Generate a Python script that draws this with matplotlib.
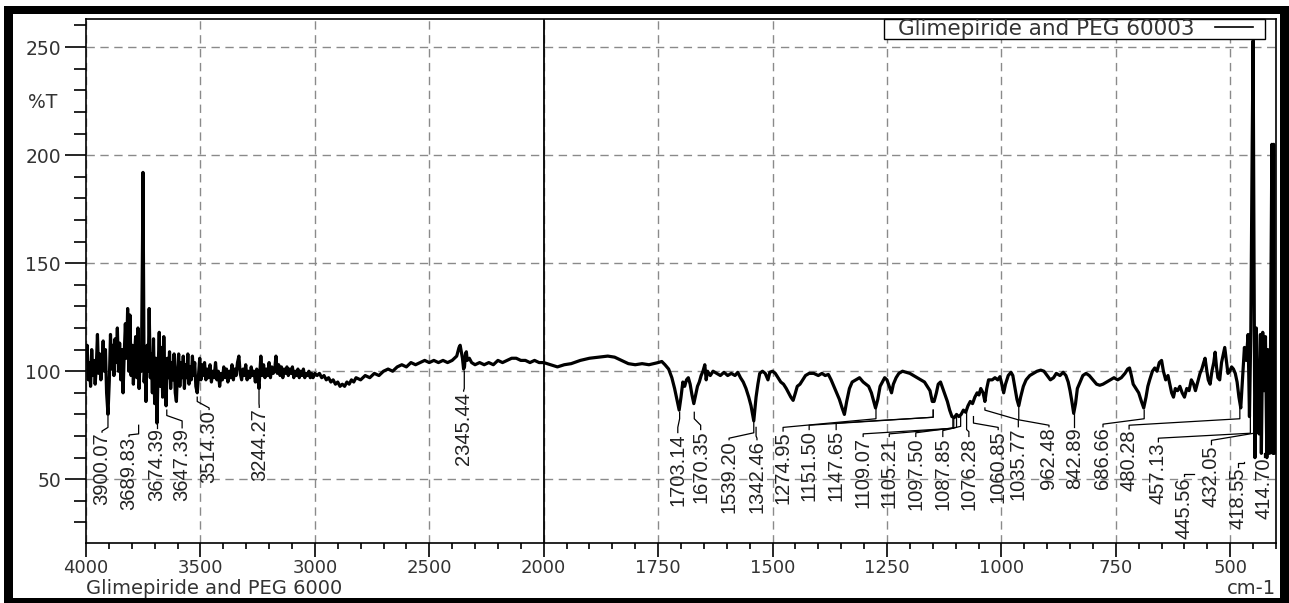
import numpy as np
import matplotlib
matplotlib.use('Agg')
import matplotlib.pyplot as plt
from matplotlib.lines import Line2D
from matplotlib.patches import Rectangle
from matplotlib.ticker import FixedLocator, NullFormatter, FuncFormatter

# ---------------- data ----------------
wavenumber = [
    4000, 3995, 3990, 3985, 3980, 3975, 3970, 3965, 3960, 3955, 3950, 3945, 3940, 3935, 3930,
    3925, 3920, 3915, 3910, 3904, 3898, 3893, 3888, 3883, 3878, 3873, 3868, 3863, 3858, 3853,
    3848, 3843, 3838, 3833, 3828, 3823, 3818, 3813, 3808, 3803, 3798, 3793, 3788, 3783, 3778,
    3773, 3768, 3763, 3758, 3753, 3751, 3749, 3746, 3742, 3738, 3733, 3728, 3724, 3719, 3715,
    3710, 3705, 3700, 3695, 3690, 3685, 3680, 3675, 3670, 3665, 3660, 3655, 3650, 3645, 3640,
    3635, 3630, 3625, 3620, 3615, 3610, 3605, 3600, 3595, 3590, 3585, 3580, 3575, 3570, 3565,
    3560, 3555, 3550, 3545, 3540, 3535, 3530, 3525, 3520, 3514, 3508, 3503, 3498, 3493,
    3488, 3482, 3476, 3470, 3464, 3458, 3452, 3446, 3440, 3434, 3428, 3422, 3416, 3410, 3404,
    3398, 3392, 3386, 3380, 3374, 3368, 3362, 3356, 3350, 3344, 3338, 3332, 3326, 3320, 3314,
    3308, 3302, 3296, 3290, 3284, 3278, 3272, 3266, 3260, 3254, 3248, 3244, 3240, 3236, 3230,
    3224, 3218, 3212, 3206, 3200, 3194, 3188, 3182, 3176, 3170, 3164, 3158, 3152, 3146, 3140,
    3134, 3128, 3122, 3116, 3110, 3104, 3098, 3092, 3086, 3080, 3074, 3068, 3062, 3056, 3050,
    3044, 3038, 3032, 3026, 3020, 3014, 3008, 3000, 2990, 2980, 2970, 2960, 2950, 2940, 2930,
    2920, 2910, 2900, 2890, 2880, 2870, 2860, 2850, 2840, 2830, 2820, 2800, 2780, 2760, 2740,
    2720, 2700, 2680, 2660, 2640, 2620, 2600, 2580, 2560, 2540, 2520, 2500, 2480, 2460, 2440,
    2420, 2400, 2390, 2380, 2370, 2365, 2360, 2355, 2350, 2346, 2342, 2338, 2334, 2325, 2315,
    2300, 2280, 2260, 2240, 2220, 2200, 2180, 2160, 2140, 2120, 2100, 2080, 2060, 2040, 2020,
    2000, 1985, 1970, 1955, 1940, 1920, 1900, 1880, 1860, 1845, 1830, 1815, 1800, 1785, 1770,
    1760, 1750, 1742, 1735, 1727, 1720, 1714, 1708, 1704, 1700, 1696, 1692, 1688, 1684, 1680,
    1676, 1672, 1668, 1664, 1660, 1656, 1652, 1648, 1645, 1642, 1636, 1630, 1622, 1614, 1606,
    1598, 1590, 1582, 1576, 1570, 1564, 1558, 1552, 1547, 1541, 1536, 1532, 1528, 1522, 1516,
    1510, 1506, 1500, 1494, 1488, 1482, 1476, 1470, 1465, 1460, 1455, 1450, 1446, 1440, 1434,
    1428, 1420, 1410, 1400, 1392, 1385, 1378, 1372, 1366, 1360, 1354, 1348, 1343, 1338, 1332,
    1326, 1318, 1310, 1302, 1296, 1290, 1284, 1279, 1275, 1270, 1265, 1260, 1255, 1250, 1245,
    1240, 1236, 1230, 1224, 1216, 1208, 1200, 1192, 1184, 1176, 1168, 1162, 1156, 1151, 1147,
    1142, 1138, 1133, 1128, 1123, 1118, 1113, 1108, 1103, 1098, 1093, 1088, 1083, 1078, 1073,
    1068, 1063, 1058, 1053, 1049, 1045, 1040, 1036, 1032, 1028, 1020, 1014, 1008, 1003, 999,
    995, 991, 985, 979, 975, 970, 966, 962, 958, 952, 946, 938, 930, 922, 914,
    907, 900, 893, 886, 880, 872, 865, 859, 854, 850, 846, 842, 838, 834, 828,
    822, 815, 808, 800, 792, 785, 778, 770, 762, 754, 746, 738, 730, 724, 720,
    716, 712, 706, 700, 694, 689, 684, 680, 676, 670, 665, 660, 655, 650, 646,
    641, 636, 632, 628, 624, 620, 615, 610, 605, 600, 595, 590, 585, 580, 576,
    571, 566, 562, 558, 555, 551, 548, 544, 540, 536, 533, 530, 527, 523, 519,
    515, 512, 508, 505, 501, 497, 493, 489, 485, 481, 477, 473, 469, 465, 461,
    458, 455, 452, 450, 448, 446, 443, 440, 437, 434, 432, 429, 426, 423, 420,
    418, 416, 414, 412, 409, 407, 405, 403, 401,
]
transmittance = [
    108, 112, 96, 104, 93, 110, 98, 105, 94, 102, 117, 99, 108, 96, 104,
    114, 100, 110, 90, 80, 96, 117, 101, 112, 98, 115, 104, 120, 100, 113,
    96, 110, 90, 108, 122, 106, 129, 100, 126, 98, 112, 94, 108, 116, 97,
    120, 92, 110, 100, 160, 192, 150, 95, 104, 86, 112, 100, 129, 97, 108,
    90, 115, 85, 106, 76, 100, 118, 93, 111, 88, 116, 95, 84, 106, 97,
    109, 92, 104, 96, 108, 90, 86, 101, 108, 93, 104, 97, 107, 92, 103,
    97, 108, 94, 102, 96, 107, 98, 104, 93, 90, 99, 106, 96, 103,
    98, 104, 96, 101, 97, 103, 95, 100, 97, 104, 96, 100, 93, 99, 96,
    102, 97, 101, 95, 100, 97, 103, 96, 101, 98, 104, 107, 99, 96, 101,
    98, 103, 96, 100, 97, 102, 98, 100, 95, 101, 96, 92, 100, 107, 98,
    103, 97, 101, 98, 104, 97, 102, 99, 100, 107, 99, 103, 98, 102, 97,
    101, 99, 102, 98, 101, 99, 102, 97, 100, 98, 101, 97, 100, 98, 101,
    97, 99, 98, 100, 97, 99, 97, 99, 98, 99, 97, 98, 96, 97, 95,
    96, 94, 95, 93, 94, 93, 95, 94, 96, 95, 97, 96, 98, 97, 99,
    98, 100, 101, 100, 102, 103, 102, 104, 103, 104, 105, 104, 105, 104, 105,
    104, 105, 106, 107, 111, 112, 109, 106, 101, 102, 108, 109, 105, 106, 104,
    103, 104, 103, 104, 103, 105, 104, 105, 106, 106, 105, 105, 104, 105, 104,
    104, 103, 102, 103, 103.5, 105, 106, 106.5, 107, 106.5, 105, 103.5, 103, 103.5, 103,
    103.5, 104, 104.5, 103, 101, 97, 92, 86, 82, 88, 95, 93, 96, 97, 94,
    89, 85, 89, 93, 95, 98, 100, 103, 96, 100, 98, 100, 99, 98, 99.5,
    98, 99, 98, 99.5, 97, 95, 92, 88, 84, 77, 88, 94, 99, 100, 99,
    96, 99.5, 100, 99, 97, 95, 94, 92, 90, 88, 86.5, 90, 93, 94, 96,
    98, 99, 99, 98, 99, 98, 98.5, 96, 93, 90, 87, 83, 80, 86, 92,
    95, 96, 97, 95, 94, 93, 90, 86, 83, 87, 93, 95, 97, 96, 93,
    90, 94, 97, 99, 100, 99.5, 99, 98, 97, 96, 95, 93, 91, 86, 86,
    90, 94, 95, 92, 89, 86, 82, 79, 78.5, 80, 79, 80, 82, 81, 84,
    86, 85, 88, 90, 89, 92, 90, 86, 92, 96, 96, 97, 96, 97.5, 94,
    90, 94, 98, 99.5, 98, 92, 87, 84, 88, 93, 96, 98, 99, 100, 100.5,
    100, 98, 96, 97, 99, 98, 99.5, 98, 95, 91, 86, 80.5, 85, 92, 95,
    98, 99, 98, 96, 94, 93.5, 94, 95, 96, 97, 96, 97, 99, 101, 101.5,
    98, 94, 92, 90, 86, 83, 88, 93, 96, 100, 101.5, 100, 104, 105, 100,
    96, 98, 94, 90, 88, 92, 91, 93, 90, 88, 92, 91, 96, 94, 91,
    95, 99, 101, 104, 106, 100, 96, 94, 100, 104, 108.8, 102, 97, 96, 104,
    108, 111, 104, 99, 100, 102, 101, 99, 95, 88, 83, 97, 111, 105, 117,
    79, 119, 205, 253, 150, 60, 120, 85, 71, 117, 62, 118, 91, 116, 60,
    110, 94, 62, 110, 205, 62, 205, 62, 100,
]

# peak annotations
peak_labels = ["3900.07", "3689.83", "3674.39", "3647.39", "3514.30", "3244.27", "2345.44",
               "1703.14", "1670.35", "1539.20", "1342.46", "1274.95", "1151.50", "1147.65",
               "1109.07", "1105.21", "1097.50", "1087.85", "1076.28", "1060.85", "1035.77",
               "962.48", "842.89", "686.66", "480.28", "457.13", "445.56", "432.05",
               "418.55", "414.70"]
label_x = [3930, 3812, 3690, 3580, 3462, 3243, 2350,
           1707, 1657, 1595, 1534, 1477, 1420, 1361,
           1302, 1245, 1187, 1128, 1071, 1007, 963,
           896, 841, 778, 721, 657, 600, 541,
           482, 426]
label_top = [71.5, 69.5, 73.5, 73.5, 82, 83, 90.5,
             71.3, 72.7, 68, 68, 72, 72.7, 72.7,
             69.5, 69.5, 69.5, 69.5, 69.5, 72.7, 74,
             74, 74, 74, 73, 67, 51, 65.7,
             55.5, 60]
leader_x = [3904, 3770, 3690, 3647, 3514, 3244, 2347,
            1703, 1671, 1541, 1536, 1274, 1149, 1149,
            1106, 1104, 1098, 1089, 1076, 1061, 1036,
            962, 841, 688, 479, 456, 580, 434,
            470, 426]
leader_start = [79, 75, 76, 82, 88, 91, 100,
                81, 81, 76.5, 74, 82.5, 82, 82,
                78, 78.5, 79.5, 80, 81, 79, 83,
                84, 80, 82, 83, 79, 52.5, 75,
                58, 62]
leader_knee = [74, 71, 74.5, 79.5, 86, 85, 92,
               78, 78, 71.5, 70, 78, 78.7, 78.7,
               73.6, 73.6, 74, 74.5, 73, 76, 82,
               77.5, 75, 78, 78, 71.3, 52.5, 71.8,
               57.5, 61]
label_knee = [72.3, 70.5, 74, 77, 83, 84, 91,
              74, 75, 69, 69, 74, 75, 76,
              71, 71, 71.5, 72.5, 72, 74, 77.5,
              75, 75, 75.5, 75, 69, 52.5, 68,
              57.5, 61]

major_x = [4000, 3500, 3000, 2500, 2000, 1750, 1500, 1250, 1000, 750, 500]
major_y = [50, 100, 150, 200, 250]

# ---------------- scale: 2x expansion below 2000 cm-1 ----------------
def fwd(x):
    x = np.asarray(x, dtype=float)
    return np.where(x >= 2000, x, 2 * x - 2000)


def inv(y):
    y = np.asarray(y, dtype=float)
    return np.where(y >= 2000, y, (y + 2000) / 2)


W, H = 1289, 603
AX_L, AX_T, AX_R, AX_B = 86, 19, 1276, 543
AW, AH = AX_R - AX_L, AX_B - AX_T
fig = plt.figure(figsize=(W / 100, H / 100), dpi=100)
ax = fig.add_axes([AX_L / W, 1 - AX_B / H, AW / W, AH / H])
ax.set_xscale('function', functions=(fwd, inv))

ax.plot(wavenumber, transmittance, color='black', lw=2.3, zorder=3)
ax.set_xlim(4000, 400)
ax.set_ylim(20.5, 263)

minor_x = [v for v in list(range(3900, 2000, -100)) + list(range(1950, 399, -50)) if v not in major_x]
ax.xaxis.set_major_locator(FixedLocator(major_x))
ax.xaxis.set_minor_locator(FixedLocator(minor_x))
ax.xaxis.set_major_formatter(FuncFormatter(lambda v, p: f"{v:.0f}"))
ax.xaxis.set_minor_formatter(NullFormatter())
ax.yaxis.set_major_locator(FixedLocator(major_y))
ax.yaxis.set_minor_locator(FixedLocator(list(range(30, 261, 10))))
ax.yaxis.set_major_formatter(FuncFormatter(lambda v, p: f"{v:.0f}"))

ax.tick_params(axis='y', which='major', direction='out', length=15, width=1.2, pad=3,
               labelsize=13.5, labelcolor='#333333')
ax.tick_params(axis='y', which='minor', direction='out', length=9, width=1.2)
ax.tick_params(axis='x', which='major', direction='out', length=10, width=1.2, pad=1.5,
               labelsize=13, labelcolor='#333333')
ax.tick_params(axis='x', which='minor', direction='out', length=4.5, width=1.2)

ax.grid(True, which='major', color='#8a8a8a', lw=1.0, ls=(0, (6, 4)), zorder=1)
ax.axvline(2000, color='black', lw=1.3, zorder=2)
for s in ax.spines.values():
    s.set_linewidth(1.2)
    s.set_color('black')

# peak labels with leader lines
for i, lab in enumerate(peak_labels):
    ax.plot([leader_x[i], leader_x[i], label_x[i], label_x[i]],
            [leader_start[i], leader_knee[i], label_knee[i], label_top[i] + 0.3],
            color='black', lw=0.9, zorder=4)
    ax.text(label_x[i], label_top[i], lab, rotation=90, ha='center', va='top',
            fontsize=14.5, family='Liberation Sans', color='#222222', zorder=5)

# legend: white box with black border, text then a short line sample
ax.add_patch(Rectangle(((884 - AX_L) / AW, (AX_B - 39) / AH), (1265 - 884) / AW, 20 / AH,
                       transform=ax.transAxes, facecolor='white', edgecolor='black',
                       lw=1.0, zorder=6, clip_on=False))
handle = Line2D([], [], color='black', lw=1.2)
leg = ax.legend([handle], ['Glimepiride and PEG 60003'], loc='upper right',
                bbox_to_anchor=((1253 - AX_L) / AW, 1.0), borderaxespad=0,
                markerfirst=False, handlelength=1.77, handletextpad=0.93, borderpad=0.0,
                frameon=False, fontsize=15.5)
leg.set_zorder(7)
for t in leg.get_texts():
    t.set_color('#333333')

fig.text(86 / W, 1 - 594 / H, 'Glimepiride and PEG 6000', ha='left', va='baseline',
         fontsize=14, color='#333333')
fig.text(1276 / W, 1 - 594 / H, 'cm-1', ha='right', va='baseline', fontsize=14, color='#333333')
fig.text(43 / W, 1 - 103 / H, '%T', ha='center', va='center', fontsize=13.5, color='#333333')

# outer black frame
for (x0, y0, x1, y1) in [(4, 6, 13, 603), (4, 6, 1289, 14), (1280, 6, 1289, 603), (4, 598, 1289, 603)]:
    fig.patches.append(Rectangle((x0 / W, 1 - y1 / H), (x1 - x0) / W, (y1 - y0) / H,
                                 transform=fig.transFigure, facecolor='black',
                                 edgecolor='none', zorder=10))

fig.savefig('out.png', dpi=100)
